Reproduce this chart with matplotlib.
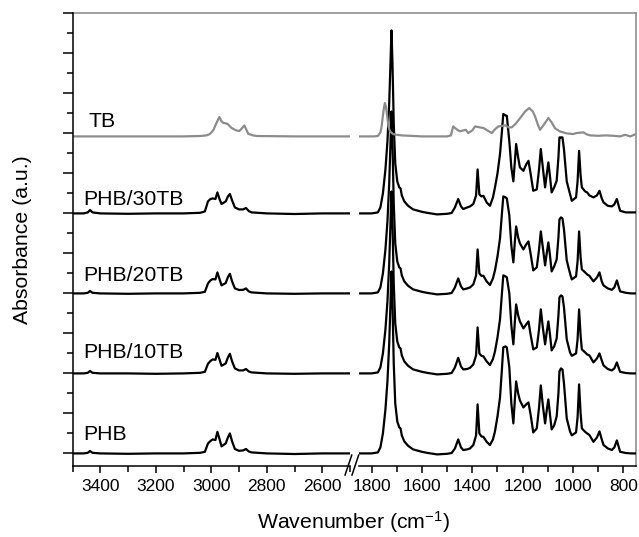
import matplotlib
matplotlib.use("Agg")
import matplotlib.pyplot as plt
from matplotlib.ticker import MultipleLocator, NullFormatter

plt.rcParams["font.family"] = ["Liberation Sans", "DejaVu Sans"]
plt.rcParams["mathtext.default"] = "regular"

# ---- data ---------------------------------------------------------------
# wavenumber grids (cm-1) for the PHB-based samples
wn_left = [3500, 3460, 3445, 3437, 3428, 3400, 3300, 3200, 3100, 3040,
           3023, 3012, 3003, 2995, 2985, 2978, 2970, 2963, 2948, 2940,
           2933, 2925, 2915, 2900, 2885, 2875, 2865, 2855, 2800, 2700,
           2600, 2500]
wn_right = [1850, 1800, 1775, 1765, 1755, 1745, 1737, 1730, 1725, 1721,
            1717, 1712, 1706, 1698, 1690, 1685, 1680, 1670, 1655, 1635,
            1600, 1580, 1540, 1500, 1482, 1469, 1456, 1445, 1436, 1420,
            1409, 1396, 1385, 1379, 1372, 1364, 1356, 1343, 1330, 1318,
            1310, 1300, 1290, 1283, 1277, 1268, 1263, 1253, 1245, 1237,
            1231, 1226, 1218, 1211, 1197, 1186, 1177, 1168, 1158, 1144,
            1135, 1128, 1120, 1111, 1104, 1098, 1092, 1085, 1075, 1065,
            1058, 1054, 1048, 1042, 1036, 1025, 1012, 1005, 988, 982,
            976, 970, 965, 952, 944, 935, 919, 905, 895, 886,
            879, 862, 846, 836, 826, 818, 813, 790, 770, 750]

phb_left = [0, 0, 0.03, 0.12, 0.03, 0, -0.02, 0, 0, 0.03,
            0.08, 0.5, 0.62, 0.7, 0.67, 1.08, 0.7, 0.35, 0.5, 0.8,
            1.0, 0.6, 0.22, 0.13, 0.15, 0.22, 0.1, 0.05, 0, -0.03,
            0, 0]
phb_right = [0, 0, 0.05, 0.3, 1.0, 2.2, 3.6, 5.5, 7.5, 9.1,
             7.5, 4.5, 2.5, 1.6, 1.3, 1.25, 0.9, 0.6, 0.38, 0.2,
             0.08, 0.03, -0.05, -0.02, 0.02, 0.25, 0.7, 0.3, 0.17, 0.2,
             0.25, 0.42, 0.9, 2.45, 1.0, 0.85, 0.83, 0.58, 0.42, 0.7,
             1.1, 1.85, 2.8, 4.1, 5.3, 5.35, 5.3, 4.3, 2.5, 1.5,
             2.7, 3.6, 3.0, 2.65, 2.3, 2.45, 2.55, 1.9, 1.05, 1.25,
             2.3, 3.4, 2.4, 1.5, 2.2, 2.7, 2.0, 1.2, 1.4, 1.85,
             3.0, 4.1, 4.25, 4.2, 3.5, 1.75, 1.1, 0.9, 1.05, 1.8,
             3.45, 2.0, 1.25, 1.08, 1.0, 0.92, 0.58, 0.8, 1.1, 0.7,
             0.42, 0.25, 0.17, 0.3, 0.65, 0.3, 0.08, 0.02, 0, 0]

tb10_left = [0, 0, 0.03, 0.12, 0.03, 0, 0, -0.02, 0, 0.03,
             0.08, 0.48, 0.62, 0.7, 0.68, 1.02, 0.68, 0.38, 0.5, 0.8,
             0.98, 0.6, 0.25, 0.15, 0.15, 0.22, 0.1, 0.05, 0, -0.02,
             0, 0]
tb10_right = [0, 0, 0.05, 0.3, 1.0, 2.2, 3.6, 5.5, 7.5, 9.1,
              7.5, 4.5, 2.5, 1.6, 1.3, 1.25, 0.9, 0.6, 0.38, 0.2,
              0.08, 0.03, -0.05, -0.02, 0.02, 0.3, 0.78, 0.35, 0.2, 0.22,
              0.28, 0.45, 0.9, 2.3, 1.0, 0.88, 0.85, 0.6, 0.42, 0.72,
              1.1, 1.8, 2.7, 3.9, 4.9, 4.85, 4.8, 4.0, 2.4, 1.45,
              2.6, 3.45, 2.9, 2.6, 2.25, 2.45, 2.6, 1.9, 1.2, 1.3,
              2.2, 3.2, 2.3, 1.45, 2.1, 2.6, 2.0, 1.15, 1.35, 1.75,
              2.9, 3.8, 3.9, 3.85, 3.3, 1.7, 1.05, 0.88, 1.0, 1.7,
              3.2, 1.9, 1.2, 1.05, 0.95, 0.9, 0.55, 0.75, 1.0, 0.65,
              0.4, 0.22, 0.15, 0.25, 0.55, 0.25, 0.08, 0.02, 0, 0]

tb20_left = [0, 0, 0.03, 0.12, 0.03, 0, -0.02, 0, 0, 0.03,
             0.08, 0.5, 0.65, 0.72, 0.7, 1.05, 0.7, 0.4, 0.52, 0.82,
             0.98, 0.6, 0.25, 0.17, 0.18, 0.25, 0.1, 0.05, 0, -0.02,
             0, 0]
tb20_right = [0, 0, 0.05, 0.3, 1.0, 2.2, 3.6, 5.5, 7.5, 9.1,
              7.5, 4.5, 2.5, 1.6, 1.3, 1.25, 0.9, 0.6, 0.38, 0.2,
              0.08, 0.03, -0.05, -0.02, 0.02, 0.3, 0.75, 0.35, 0.2, 0.25,
              0.3, 0.45, 0.9, 2.2, 1.0, 0.88, 0.88, 0.6, 0.42, 0.75,
              1.15, 1.85, 2.75, 3.9, 4.85, 4.8, 4.75, 3.9, 2.4, 1.55,
              2.6, 3.35, 2.8, 2.5, 2.2, 2.45, 2.6, 1.95, 1.15, 1.3,
              2.2, 3.1, 2.3, 1.4, 2.05, 2.55, 1.95, 1.1, 1.35, 1.7,
              2.8, 3.7, 3.8, 3.75, 3.2, 1.65, 1.0, 0.7, 0.85, 1.6,
              3.1, 1.8, 1.2, 1.05, 0.95, 0.88, 0.6, 0.8, 1.05, 0.6,
              0.4, 0.25, 0.18, 0.3, 0.65, 0.3, 0.1, 0.03, 0, 0]

tb30_left = [0, 0, 0.05, 0.17, 0.05, 0, -0.02, 0, 0, 0.03,
             0.1, 0.6, 0.72, 0.75, 0.72, 1.05, 0.7, 0.47, 0.6, 0.85,
             0.97, 0.65, 0.3, 0.2, 0.2, 0.27, 0.12, 0.05, 0, -0.03,
             0, 0]
tb30_right = [0, 0, 0.05, 0.3, 1.0, 2.2, 3.6, 5.5, 7.5, 9.15,
              7.5, 4.5, 2.5, 1.6, 1.3, 1.25, 0.9, 0.6, 0.38, 0.2,
              0.08, 0.03, -0.05, -0.02, 0.02, 0.3, 0.72, 0.35, 0.22, 0.3,
              0.35, 0.47, 0.9, 2.2, 0.95, 0.85, 0.88, 0.55, 0.38, 0.8,
              1.3, 2.0, 2.97, 4.0, 4.97, 4.9, 4.88, 3.6, 2.3, 1.6,
              2.6, 3.47, 2.8, 2.3, 2.13, 2.45, 2.63, 1.95, 1.13, 1.2,
              2.2, 3.22, 2.3, 1.3, 2.0, 2.55, 1.9, 1.05, 1.3, 1.63,
              2.8, 3.8, 3.8, 3.8, 3.2, 1.6, 0.97, 0.63, 0.8, 1.6,
              3.13, 1.9, 1.3, 1.1, 1.05, 0.9, 0.8, 0.9, 1.13, 0.75,
              0.55, 0.38, 0.35, 0.45, 0.72, 0.35, 0.13, 0.05, 0.05, 0.05]

# pure TB has its own grids
wn_tb_left = [3500, 3100, 3040, 3017, 3005, 2993, 2982, 2971, 2963, 2957,
              2942, 2927, 2910, 2899, 2890, 2881, 2874, 2867, 2850, 2836,
              2700, 2500]
tb_left = [0, 0, 0.02, 0.05, 0.12, 0.3, 0.65, 0.97, 0.75, 0.68,
           0.63, 0.42, 0.3, 0.27, 0.4, 0.55, 0.35, 0.13, 0.05, 0.02,
           0, 0]
wn_tb_right = [1850, 1790, 1775, 1765, 1760, 1755, 1750, 1747, 1743, 1738,
               1733, 1727, 1715, 1700, 1680, 1600, 1500, 1485, 1476, 1462,
               1449, 1436, 1426, 1416, 1400, 1389, 1370, 1356, 1340, 1323,
               1310, 1297, 1283, 1270, 1255, 1244, 1230, 1211, 1190, 1174,
               1160, 1151, 1140, 1131, 1115, 1098, 1085, 1071, 1052, 1025,
               1000, 985, 959, 945, 932, 900, 870, 840, 813, 793,
               773, 753, 750]
tb_right = [0, 0, 0.02, 0.2, 0.5, 1.05, 1.5, 1.67, 1.5, 1.0,
            0.5, 0.25, 0.12, 0.08, 0.05, 0, 0, 0.05, 0.5, 0.35,
            0.25, 0.3, 0.33, 0.17, 0.3, 0.5, 0.45, 0.42, 0.3, 0.17,
            0.35, 0.5, 0.52, 0.55, 0.45, 0.45, 0.6, 0.9, 1.25, 1.42,
            1.25, 1.0, 0.6, 0.33, 0.6, 0.92, 0.7, 0.4, 0.25, 0.15,
            0.12, 0.17, 0.2, 0.1, 0.05, 0.03, 0.05, 0.03, 0, 0.08,
            0, 0.1, 0.1]

labels = ["PHB", "PHB/10TB", "PHB/20TB", "PHB/30TB", "TB"]
offsets = [0, 4, 8, 12, 15.85]

spectra = [
    (wn_left, phb_left, wn_right, phb_right),
    (wn_left, tb10_left, wn_right, tb10_right),
    (wn_left, tb20_left, wn_right, tb20_right),
    (wn_left, tb30_left, wn_right, tb30_right),
    (wn_tb_left, tb_left, wn_tb_right, tb_right),
]
colors = ["black", "black", "black", "black", "#8c8c8c"]

# ---- figure -------------------------------------------------------------
fig = plt.figure(figsize=(6.39, 5.37), dpi=100)
bottom, height = 0.1322, 0.8436

# outer frame: grey top and right edges spanning both panels
frame = fig.add_axes([0.1135, bottom, 0.8818, height])
frame.set_xticks([])
frame.set_yticks([])
frame.patch.set_visible(False)
for side in ["left", "bottom"]:
    frame.spines[side].set_visible(False)
for side in ["top", "right"]:
    frame.spines[side].set_color("#999999")
    frame.spines[side].set_linewidth(1.3)

ax_l = fig.add_axes([0.1135, bottom, 0.4343, height])
ax_r = fig.add_axes([0.5618, bottom, 0.4335, height])

for (wl, yl, wr, yr), off, c in zip(spectra, offsets, colors):
    ax_l.plot(wl, [v + off for v in yl], color=c, lw=1.6)
    ax_r.plot(wr, [v + off for v in yr], color=c, lw=1.6)

ax_l.set_xlim(3500, 2500)
ax_r.set_xlim(1850, 750)
for ax in (ax_l, ax_r):
    ax.set_ylim(-0.63, 22.02)
    ax.patch.set_visible(False)
    ax.spines["top"].set_visible(False)
    ax.spines["right"].set_visible(False)
    ax.spines["bottom"].set_linewidth(1.1)
    ax.xaxis.set_major_locator(MultipleLocator(200))
    ax.xaxis.set_minor_locator(MultipleLocator(100))
    ax.tick_params(axis="x", which="major", direction="out", length=5,
                   width=1.1, labelsize=12.5, pad=4)
    ax.tick_params(axis="x", which="minor", direction="out", length=4,
                   width=1.1)

ax_r.spines["left"].set_visible(False)
ax_r.set_yticks([])

ax_l.spines["left"].set_linewidth(1.1)
ax_l.yaxis.set_major_locator(MultipleLocator(2))
ax_l.yaxis.set_minor_locator(MultipleLocator(1))
ax_l.yaxis.set_major_formatter(NullFormatter())
ax_l.tick_params(axis="y", which="major", direction="out", length=7, width=1.1)
ax_l.tick_params(axis="y", which="minor", direction="out", length=4.5, width=1.1)

# axis break marks
for dx in (0.0, 0.025):
    ax_l.plot([0.982 + dx, 1.006 + dx], [-0.02, 0.024], color="black", lw=1.1,
              transform=ax_l.transAxes, clip_on=False)

# sample labels
label_x = [3462, 3462, 3462, 3462, 3444]
label_dy = [0.65, 0.75, 0.6, 0.4, 0.45]
for name, off, lx, dy in zip(labels, offsets, label_x, label_dy):
    ax_l.text(lx, off + dy, name, fontsize=15.3, ha="left", va="baseline")

ax_l.set_ylabel("Absorbance (a.u.)", fontsize=15.3)
ax_l.yaxis.set_label_coords(-0.147, 0.5)
fig.text(0.554, 0.028, "Wavenumber (cm$^{-1}$)", fontsize=15.3,
         ha="center", va="center")

fig.savefig("out.png", dpi=100)
